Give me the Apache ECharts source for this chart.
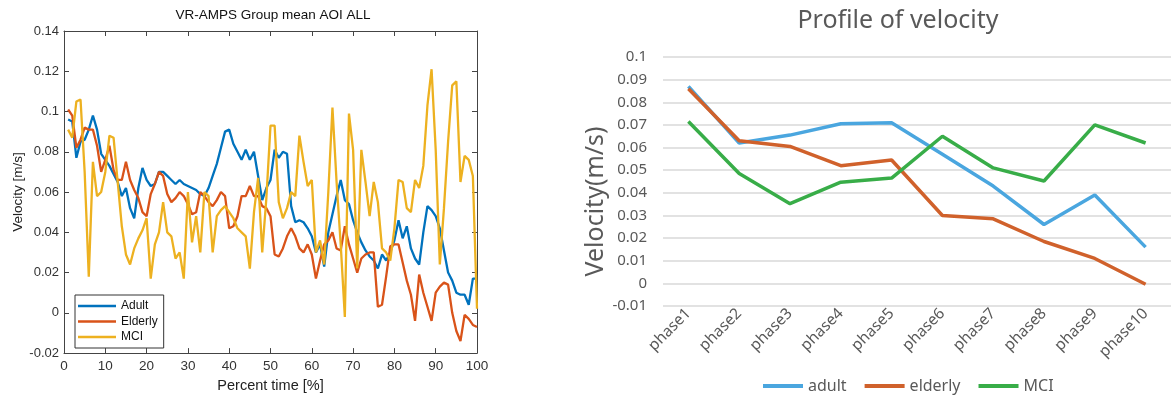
<!DOCTYPE html>
<html>
<head>
<meta charset="utf-8">
<script src="https://cdn.jsdelivr.net/npm/echarts@6/dist/echarts.min.js"></script>
<style>
html,body{margin:0;padding:0;background:#fff;}
#chart{width:1171px;height:398px;}
</style>
</head>
<body>
<div id="chart"></div>
<script>
// ---- Left panel: VR-AMPS Group mean AOI ALL (percent time 1..100) ----
const leftTitle = 'VR-AMPS Group mean AOI ALL';
const leftYTicks = [-0.02, 0, 0.02, 0.04, 0.06, 0.08, 0.1, 0.12, 0.14];
const adultCurve = [0.096,0.095,0.077,0.085,0.086,0.091,0.098,0.091,0.079,0.076,
  0.073,0.069,0.065,0.058,0.062,0.052,0.047,0.062,0.072,0.066,
  0.063,0.064,0.070,0.070,0.068,0.066,0.064,0.066,0.064,0.063,
  0.062,0.061,0.059,0.058,0.062,0.068,0.074,0.082,0.090,0.091,
  0.084,0.080,0.076,0.081,0.076,0.080,0.068,0.056,0.062,0.066,
  0.081,0.077,0.080,0.079,0.053,0.045,0.046,0.045,0.042,0.038,
  0.030,0.034,0.023,0.040,0.049,0.058,0.066,0.056,0.054,0.046,
  0.040,0.035,0.031,0.028,0.026,0.022,0.029,0.026,0.030,0.036,
  0.046,0.037,0.043,0.032,0.027,0.024,0.040,0.053,0.051,0.048,
  0.042,0.031,0.020,0.016,0.010,0.009,0.009,0.004,0.017,0.017];
const elderlyCurve = [0.101,0.098,0.082,0.086,0.092,0.091,0.091,0.083,0.070,0.076,
  0.083,0.071,0.066,0.066,0.075,0.066,0.061,0.057,0.050,0.048,
  0.059,0.064,0.070,0.068,0.059,0.055,0.057,0.060,0.058,0.054,
  0.049,0.050,0.060,0.058,0.055,0.053,0.056,0.060,0.058,0.042,
  0.043,0.048,0.058,0.058,0.063,0.058,0.058,0.053,0.052,0.048,
  0.029,0.028,0.032,0.038,0.042,0.038,0.032,0.030,0.034,0.029,
  0.017,0.026,0.034,0.036,0.040,0.032,0.031,0.043,0.034,0.027,
  0.020,0.027,0.029,0.030,0.030,0.003,0.004,0.018,0.033,0.034,
  0.034,0.025,0.016,0.009,-0.004,0.019,0.010,0.003,-0.004,0.010,
  0.013,0.015,0.014,0.000,-0.009,-0.014,-0.001,-0.003,-0.006,-0.007];
const mciCurve = [0.091,0.087,0.105,0.106,0.070,0.018,0.075,0.058,0.060,0.070,
  0.088,0.087,0.065,0.043,0.029,0.024,0.032,0.037,0.041,0.047,
  0.017,0.034,0.040,0.055,0.040,0.038,0.027,0.030,0.017,0.060,
  0.035,0.048,0.030,0.060,0.058,0.030,0.048,0.051,0.053,0.050,
  0.047,0.042,0.040,0.038,0.022,0.050,0.067,0.030,0.057,0.093,
  0.093,0.055,0.047,0.052,0.060,0.058,0.088,0.075,0.063,0.066,
  0.030,0.036,0.024,0.060,0.102,0.065,0.034,-0.002,0.099,0.081,
  0.022,0.081,0.065,0.048,0.065,0.055,0.032,0.030,0.026,0.042,
  0.066,0.065,0.052,0.050,0.066,0.062,0.073,0.103,0.121,0.081,
  0.024,0.052,0.085,0.113,0.115,0.065,0.078,0.076,0.068,0.002];

// ---- Right panel: Profile of velocity ----
const rightTitle = 'Profile of velocity';
const phases = ['phase1','phase2','phase3','phase4','phase5','phase6','phase7','phase8','phase9','phase10'];
const adultPhase   = [0.087,0.062,0.0655,0.0705,0.071,0.057,0.043,0.026,0.039,0.016];
const elderlyPhase = [0.086,0.063,0.0605,0.052,0.0545,0.030,0.0285,0.0185,0.011,-0.0004];
const mciPhase     = [0.0715,0.0485,0.0352,0.0447,0.0465,0.065,0.051,0.0452,0.070,0.062];

const pct = arr => arr.map((v, i) => [i + 1, v]);
const fmt = v => String(+(+v).toFixed(2));
const axisGray = '#444';
const leftFont = '"Liberation Sans", Arial, sans-serif';
const rightFont = '"Noto Sans", "Open Sans", sans-serif';
const mirror = {
  axisLabel: {show: false}, splitLine: {show: false},
  axisLine: {show: true, onZero: false, lineStyle: {color: axisGray, width: 1}},
  axisTick: {show: true, inside: true, length: 5, lineStyle: {color: axisGray}}
};

const chart = echarts.init(document.getElementById('chart'), null, {renderer: 'canvas'});
chart.setOption({
  animation: false,
  backgroundColor: '#fff',
  title: [
    {text: leftTitle, left: 268, top: 3, textAlign: 'center',
     textStyle: {fontFamily: leftFont, fontSize: 13.5, fontWeight: 'normal', color: '#111'}},
    {text: rightTitle, left: 893, top: 3, textAlign: 'center',
     textStyle: {fontFamily: rightFont, fontSize: 25, fontWeight: 'normal', color: '#595959'}}
  ],
  legend: [
    {data: ['Adult', 'Elderly', 'MCI'], orient: 'vertical', left: 75, top: 295,
     icon: 'rect', itemWidth: 38, itemHeight: 2.5, itemGap: 3.5, padding: [5, 6, 5, 3],
     borderColor: '#333', borderWidth: 1, backgroundColor: '#fff',
     textStyle: {fontFamily: leftFont, fontSize: 12, color: '#111'}},
    {data: ['adult', 'elderly', 'MCI '], orient: 'horizontal', left: 758, top: 373,
     icon: 'rect', itemWidth: 40, itemHeight: 4, itemGap: 18,
     formatter: n => n.trim(),
     textStyle: {fontFamily: rightFont, fontSize: 16, color: '#595959'}}
  ],
  grid: [
    {left: 64, top: 31, width: 413, height: 325},
    {left: 663, top: 57, width: 514, height: 249}
  ],
  xAxis: [
    {type: 'value', gridIndex: 0, min: 0, max: 100, interval: 10,
     name: 'Percent time [%]', nameLocation: 'middle', nameGap: 20,
     nameTextStyle: {fontFamily: leftFont, fontSize: 14.5, color: '#222'},
     axisLine: {show: true, onZero: false, lineStyle: {color: axisGray, width: 1}},
     axisTick: {inside: true, length: 5, lineStyle: {color: axisGray}},
     axisLabel: {fontFamily: leftFont, fontSize: 13.5, color: '#333', margin: 6},
     splitLine: {show: false}},
    Object.assign({type: 'value', gridIndex: 0, position: 'top', min: 0, max: 100, interval: 10}, mirror),
    {type: 'category', gridIndex: 1, data: phases, boundaryGap: true,
     axisLine: {show: false, onZero: false}, axisTick: {show: false},
     axisLabel: {rotate: 45, fontFamily: rightFont, fontSize: 15.5, color: '#595959', margin: 5}}
  ],
  yAxis: [
    {type: 'value', gridIndex: 0, min: -0.02, max: 0.14, interval: 0.02,
     name: 'Velocity [m/s]', nameLocation: 'middle', nameGap: 39,
     nameTextStyle: {fontFamily: leftFont, fontSize: 13.5, color: '#222'},
     axisLine: {show: true, onZero: false, lineStyle: {color: axisGray, width: 1}},
     axisTick: {show: true, inside: true, length: 5, lineStyle: {color: axisGray}},
     axisLabel: {fontFamily: leftFont, fontSize: 13, color: '#333', margin: 5, formatter: fmt},
     splitLine: {show: false}},
    Object.assign({type: 'value', gridIndex: 0, position: 'right', min: -0.02, max: 0.14, interval: 0.02}, mirror),
    {type: 'value', gridIndex: 1, min: -0.01, max: 0.1, interval: 0.01,
     name: 'Velocity(m/s)', nameLocation: 'middle', nameGap: 54,
     nameTextStyle: {fontFamily: rightFont, fontSize: 25, color: '#595959', padding: [0, 40, 0, 0]},
     axisLine: {show: false, onZero: false}, axisTick: {show: false},
     axisLabel: {fontFamily: rightFont, fontSize: 15, color: '#595959', margin: 16, formatter: fmt},
     splitLine: {lineStyle: {color: '#d9d9d9', width: 1.5}}}
  ],
  series: [
    {name: 'Adult', type: 'line', xAxisIndex: 0, yAxisIndex: 0, data: pct(adultCurve),
     symbol: 'none', lineStyle: {width: 2.3, color: '#0072BD'}, itemStyle: {color: '#0072BD'}},
    {name: 'Elderly', type: 'line', xAxisIndex: 0, yAxisIndex: 0, data: pct(elderlyCurve),
     symbol: 'none', lineStyle: {width: 2.3, color: '#D95319'}, itemStyle: {color: '#D95319'}},
    {name: 'MCI', type: 'line', xAxisIndex: 0, yAxisIndex: 0, data: pct(mciCurve),
     symbol: 'none', lineStyle: {width: 2.3, color: '#EDB120'}, itemStyle: {color: '#EDB120'}},
    {name: 'adult', type: 'line', xAxisIndex: 2, yAxisIndex: 2, data: adultPhase,
     symbol: 'none', lineStyle: {width: 3.5, color: '#4aa6df'}, itemStyle: {color: '#4aa6df'}},
    {name: 'elderly', type: 'line', xAxisIndex: 2, yAxisIndex: 2, data: elderlyPhase,
     symbol: 'none', lineStyle: {width: 3.5, color: '#d0612b'}, itemStyle: {color: '#d0612b'}},
    {name: 'MCI ', type: 'line', xAxisIndex: 2, yAxisIndex: 2, data: mciPhase,
     symbol: 'none', lineStyle: {width: 3.5, color: '#38ad48'}, itemStyle: {color: '#38ad48'}}
  ]
});
</script>
</body>
</html>
